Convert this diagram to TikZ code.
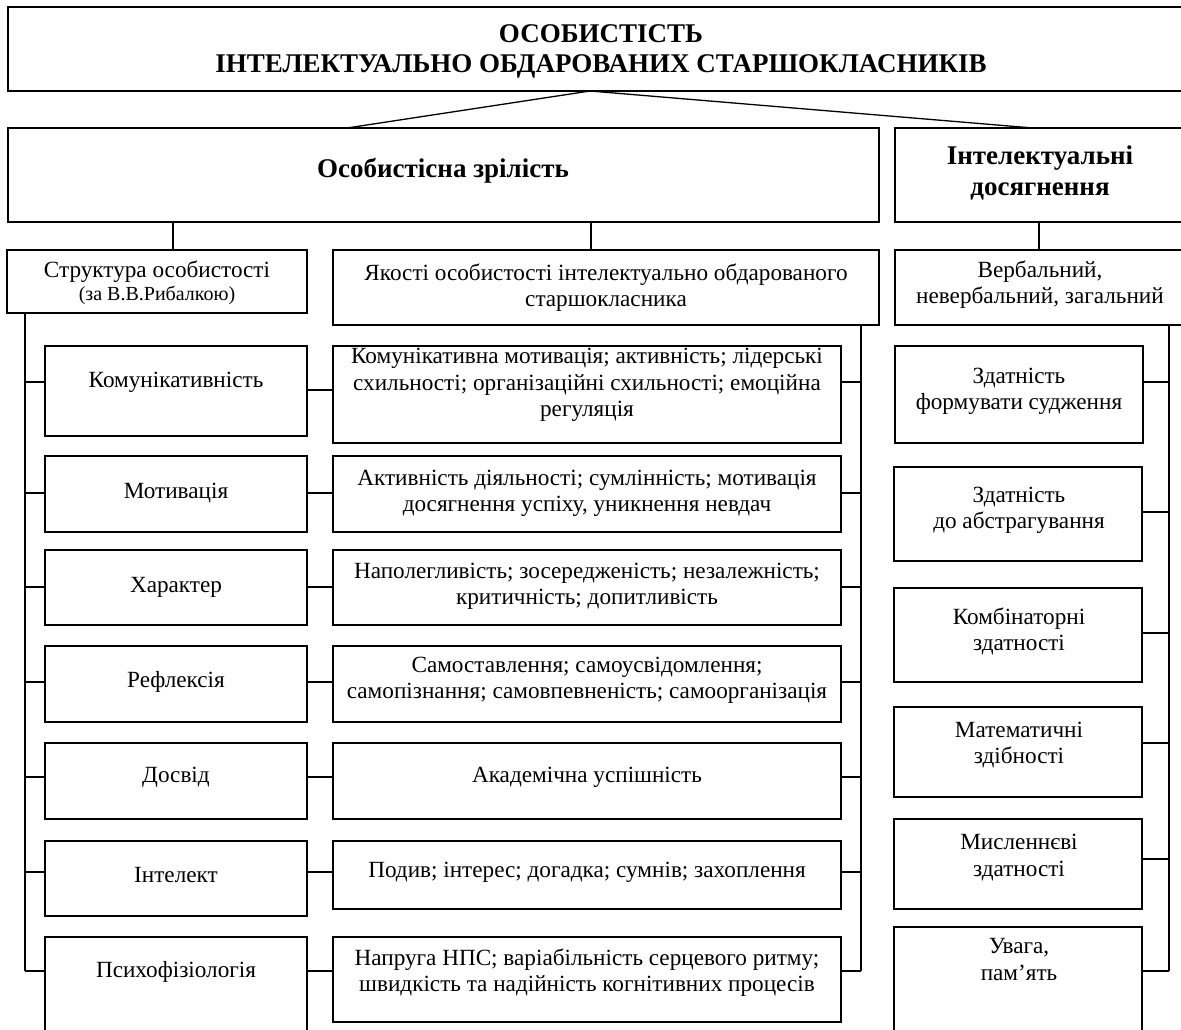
\documentclass[tikz,border=0pt]{standalone}
\usepackage{fontspec}
\setmainfont{Liberation Serif}
\newcommand\bx[5]{\node[boxst, minimum width={#4-#2}, minimum height={#5-#3}] (#1) at ({(#2+#4)/2},{(#3+#5)/2}) {};}
\tikzset{
  boxst/.style={draw, line width=1.5pt, rectangle, inner sep=0pt, outer sep=0pt},
  txt/.style={align=center, inner sep=0pt, font=\fontsize{23.2}{26.3}\selectfont},
  btxt/.style={align=center, inner sep=0pt, font=\fontsize{27}{31}\selectfont\bfseries},
  conn/.style={line width=1.3pt},
}
\begin{document}
\begin{tikzpicture}[x=1pt,y=-1pt]
\useasboundingbox (0,0) rectangle (1181,1030);
\clip (0,0) rectangle (1181,1030);
% top level
\bx{top}{8}{7}{1200}{91}
\node[btxt, font=\fontsize{27}{30}\selectfont\bfseries] (top-t) at (601,51) {ОСОБИСТІСТЬ\\ІНТЕЛЕКТУАЛЬНО ОБДАРОВАНИХ СТАРШОКЛАСНИКІВ};
\bx{osob}{8}{128}{879}{222}
\node[btxt] (osob-t) at (443,171) {Особистісна зрілість};
\bx{intel}{895}{128}{1200}{222}
\node[btxt] (intel-t) at (1040,173) {Інтелектуальні\\досягнення};
\coordinate (apex) at (590,91);
\coordinate (osobtop) at (347,128);
\coordinate (inteltop) at (1033,128);
\draw[conn] (apex) -- (osobtop);
\draw[conn] (apex) -- (inteltop);
% second level
\bx{struct}{7}{250}{307}{313}
\node[txt] (struct-t) at (157,283) {Структура особистості\\[-3pt]{\fontsize{20}{22}\selectfont (за В.В.Рибалкою)}};
\bx{yak}{333}{250}{879}{325}
\node[txt] (yak-t) at (606,287.5) {Якості особистості інтелектуально обдарованого\\старшокласника};
\bx{verb}{895}{250}{1200}{325}
\node[txt] (verb-t) at (1040,284.5) {Вербальний,\\невербальний, загальний};
\draw[conn] (struct.north -| 173,0) -- (osob.south -| 173,0);
\draw[conn] (yak.north -| 591,0) -- (osob.south -| 591,0);
\draw[conn] (verb.north -| 1039,0) -- (intel.south -| 1039,0);
% left column
\bx{L1}{45}{346}{307}{436}
\bx{L2}{45}{456}{307}{532}
\bx{L3}{45}{550}{307}{625}
\bx{L4}{45}{646}{307}{722}
\bx{L5}{45}{743}{307}{819}
\bx{L6}{45}{841}{307}{916}
\bx{L7}{45}{937}{307}{1060}
\node[txt] (L1-t) at (176,382) {Комунікативність};
\node[txt] (L2-t) at (176,493) {Мотивація};
\node[txt] (L3-t) at (176,587) {Характер};
\node[txt] (L4-t) at (176,682) {Рефлексія};
\node[txt] (L5-t) at (176,777) {Досвід};
\node[txt] (L6-t) at (176,875) {Інтелект};
\node[txt] (L7-t) at (176,972) {Психофізіологія};
% middle column
\bx{M1}{333}{346}{841}{443}
\bx{M2}{333}{456}{841}{532}
\bx{M3}{333}{550}{841}{625}
\bx{M4}{333}{646}{841}{722}
\bx{M5}{333}{743}{841}{819}
\bx{M6}{333}{841}{841}{909}
\bx{M7}{333}{937}{841}{1022}
\node[txt] (M1-t) at (587,385) {Комунікативна мотивація; активність; лідерські\\схильності; організаційні схильності; емоційна\\регуляція};
\node[txt] (M2-t) at (587,493) {Активність діяльності; сумлінність; мотивація\\досягнення успіху, уникнення невдач};
\node[txt] (M3-t) at (587,586) {Наполегливість; зосередженість; незалежність;\\критичність; допитливість};
\node[txt] (M4-t) at (587,680.5) {Самоставлення; самоусвідомлення;\\самопізнання; самовпевненість; самоорганізація};
\node[txt] (M5-t) at (587,777) {Академічна успішність};
\node[txt] (M6-t) at (587,872) {Подив; інтерес; догадка; сумнів; захоплення};
\node[txt] (M7-t) at (587,973) {Напруга НПС; варіабільність серцевого ритму;\\швидкість та надійність когнітивних процесів};
% right column
\bx{R1}{895}{346}{1143}{443}
\bx{R2}{894}{467}{1142}{561}
\bx{R3}{894}{588}{1142}{682}
\bx{R4}{894}{707}{1142}{797}
\bx{R5}{894}{819}{1142}{909}
\bx{R6}{894}{927}{1142}{1060}
\node[txt] (R1-t) at (1019,391) {Здатність\\формувати судження};
\node[txt] (R2-t) at (1019,510.5) {Здатність\\до абстрагування};
\node[txt] (R3-t) at (1019,631.5) {Комбінаторні\\здатності};
\node[txt] (R4-t) at (1019,745) {Математичні\\здібності};
\node[txt] (R5-t) at (1019,857.5) {Мисленнєві\\здатності};
\node[txt] (R6-t) at (1019,959.5) {Увага,\\пам’ять};
% left spine
\coordinate (ls1) at (25,382);
\coordinate (ls2) at (25,493);
\coordinate (ls3) at (25,587);
\coordinate (ls4) at (25,682);
\coordinate (ls5) at (25,777);
\coordinate (ls6) at (25,872);
\coordinate (ls7) at (25,971);
\draw[conn] (struct.south -| ls1) -- (ls7);
\foreach \i in {1,...,7} {\draw[conn] (ls\i) -- (ls\i -| L\i.west);}
% left-to-middle connectors
\draw[conn] (L1.east |- 0,390) -- (M1.west |- 0,390);
\draw[conn] (L2.east |- ls2) -- (M2.west |- ls2);
\draw[conn] (L3.east |- ls3) -- (M3.west |- ls3);
\draw[conn] (L4.east |- ls4) -- (M4.west |- ls4);
\draw[conn] (L5.east |- ls5) -- (M5.west |- ls5);
\draw[conn] (L6.east |- ls6) -- (M6.west |- ls6);
\draw[conn] (L7.east |- ls7) -- (M7.west |- ls7);
% middle spine
\coordinate (ms1) at (861,382);
\coordinate (ms2) at (861,493);
\coordinate (ms3) at (861,587);
\coordinate (ms4) at (861,682);
\coordinate (ms5) at (861,777);
\coordinate (ms6) at (861,872);
\coordinate (ms7) at (861,971);
\draw[conn] (yak.south -| ms1) -- (ms7);
\foreach \i in {1,...,7} {\draw[conn] (ms\i) -- (ms\i -| M\i.east);}
% right spine
\coordinate (rs1) at (1169,382);
\coordinate (rs2) at (1169,512);
\coordinate (rs3) at (1169,633);
\coordinate (rs4) at (1169,743);
\coordinate (rs5) at (1169,859);
\coordinate (rs6) at (1169,971);
\draw[conn] (verb.south -| rs1) -- (rs6);
\foreach \i in {1,...,6} {\draw[conn] (rs\i) -- (rs\i -| R\i.east);}
\end{tikzpicture}
\end{document}
